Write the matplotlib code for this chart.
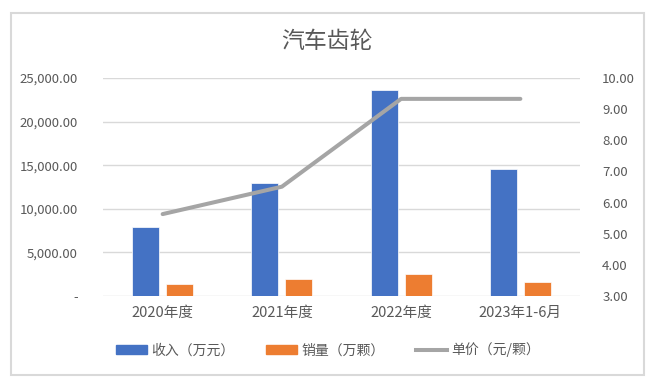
import matplotlib
matplotlib.use("Agg")
import matplotlib.pyplot as plt
import numpy as np
from matplotlib.patches import Rectangle
from matplotlib.lines import Line2D

plt.rcParams['font.family'] = ['Noto Sans CJK SC', 'DejaVu Sans']

categories = ["2020年度", "2021年度", "2022年度", "2023年1-6月"]
revenue = [7950, 12950, 23620, 14530]      # 收入（万元）
volume = [1420, 1990, 2530, 1560]          # 销量（万颗）
price = [5.63, 6.51, 9.33, 9.33]           # 单价（元/颗）
left_ticks = [0, 5000, 10000, 15000, 20000, 25000]
right_ticks = [3, 4, 5, 6, 7, 8, 9, 10]

blue, orange, grey = "#4472c4", "#ed7d31", "#a5a5a5"
txt = "#595959"

fig = plt.figure(figsize=(6.59, 3.91), dpi=100)
W, H = 659, 391
fig.patches.append(Rectangle((11 / W, 1 - 375 / H), 633 / W, 362 / H, transform=fig.transFigure,
                             fill=False, edgecolor="#d9d9d9", lw=1.5))

ax = fig.add_axes([103 / W, 1 - 296 / H, 477 / W, 218 / H])
x = np.arange(len(categories))
bw = 0.226
ax.bar(x - 0.143, revenue, width=bw, color=blue, edgecolor="white", lw=0.5, zorder=3)
ax.bar(x + 0.143, volume, width=bw, color=orange, edgecolor="white", lw=0.5, zorder=3)
ax.set_xlim(-0.5, len(categories) - 0.5)
ax.set_ylim(0, 25000)
ax.set_yticks(left_ticks)
ax.set_yticklabels(["-" if v == 0 else f"{v:,.2f}" for v in left_ticks])
ax.set_xticks(x)
ax.set_xticklabels(categories)
ax.grid(axis="y", color="#d9d9d9", lw=1, zorder=0)
for s in ax.spines.values():
    s.set_visible(False)
ax.tick_params(length=0, colors=txt, labelsize=9.5)
ax.tick_params(axis="y", pad=18)
ax.tick_params(axis="x", labelsize=10.5, pad=7)

ax2 = ax.twinx()
ax2.plot(x, price, color=grey, lw=2.9, solid_capstyle="round", zorder=4)
ax2.set_ylim(3, 10)
ax2.set_yticks(right_ticks)
ax2.set_yticklabels([f"{v:.2f}" for v in right_ticks])
for s in ax2.spines.values():
    s.set_visible(False)
ax2.tick_params(length=0, colors=txt, labelsize=9.5, pad=16)

fig.text(327 / W, 1 - 42 / H, "汽车齿轮", ha="center", va="center", fontsize=16.5, color=txt)

handles = [Rectangle((0, 0), 1, 1, color=blue), Rectangle((0, 0), 1, 1, color=orange),
           Line2D([0], [0], color=grey, lw=2.9)]
labels = ["收入（万元）", "销量（万颗）", "单价（元/颗）"]
fig.legend(handles, labels, loc="center", bbox_to_anchor=(328 / W, 1 - 350 / H), ncol=3, frameon=False,
           fontsize=10, labelcolor=txt, handlelength=2.2, handleheight=0.55, handletextpad=0.3,
           columnspacing=2.3)

fig.savefig("out.png", dpi=100)
